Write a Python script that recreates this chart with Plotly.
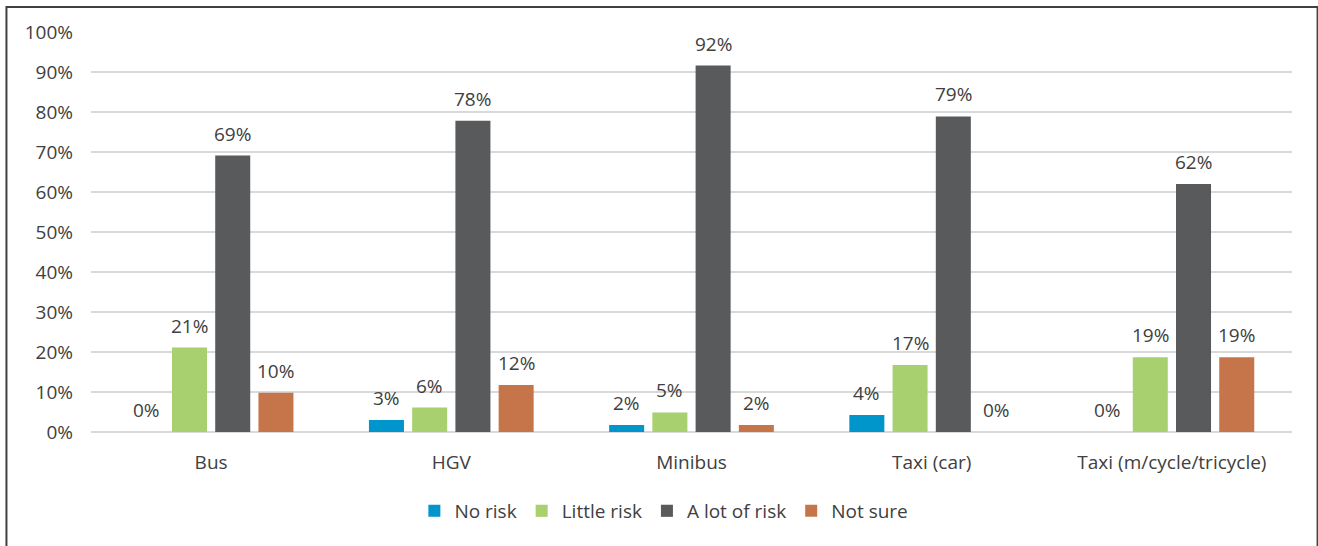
import plotly.graph_objects as go

# Perceived risk by vehicle type
vehicles = ["Bus", "HGV", "Minibus", "Taxi (car)", "Taxi (m/cycle/tricycle)"]
no_risk = [0.0, 0.030, 0.0175, 0.0425, 0.0]
little_risk = [0.211, 0.061, 0.049, 0.1675, 0.187]
a_lot_of_risk = [0.691, 0.778, 0.916, 0.789, 0.62]
not_sure = [0.098, 0.1175, 0.0175, 0.0, 0.187]

series = [
    ("No risk", no_risk, "#0096CC"),
    ("Little risk", little_risk, "#A8D06E"),
    ("A lot of risk", a_lot_of_risk, "#595A5C"),
    ("Not sure", not_sure, "#C6754A"),
]

text_color = "#404040"
font_family = "Open Sans, Lato, sans-serif"
font_size = 19

bargap = 0.28
bargroupgap = 0.19

fig = go.Figure()
for name, vals, color in series:
    fig.add_trace(go.Bar(
        x=vehicles,
        y=vals,
        name=name,
        marker=dict(color=color, line=dict(width=0)),
        cliponaxis=False,
    ))

# Value labels above each bar, placed at the bar's slot within its group
n = len(series)
slot = (1 - bargap) / n
for i, (name, vals, color) in enumerate(series):
    offset = (i - (n - 1) / 2) * slot
    for j, v in enumerate(vals):
        fig.add_annotation(
            x=j + offset, y=v, xref="x", yref="y",
            text=f"{v:.0%}",
            showarrow=False,
            yanchor="bottom",
            yshift=7,
            font=dict(size=font_size, color=text_color, family=font_family),
        )

# Outer chart border
fig.add_shape(
    type="rect", xref="paper", yref="paper",
    x0=-0.0704, x1=1.0213, y0=-0.35, y1=1.0625,
    line=dict(color="#404040", width=2), fillcolor="rgba(0,0,0,0)",
    layer="below",
)

fig.update_layout(
    width=1318,
    height=546,
    margin=dict(l=91, r=26, t=32, b=114),
    paper_bgcolor="white",
    plot_bgcolor="white",
    barmode="group",
    bargap=bargap,
    bargroupgap=bargroupgap,
    font=dict(family=font_family, size=font_size, color=text_color),
    showlegend=True,
    legend=dict(
        orientation="h",
        x=0.477, xanchor="center",
        y=-0.15, yanchor="top",
        font=dict(size=font_size, color=text_color),
        itemwidth=30,
        traceorder="normal",
    ),
)

fig.update_xaxes(
    showgrid=False,
    showline=False,
    ticks="",
    tickfont=dict(size=font_size, color=text_color),
    ticklabelstandoff=17,
)

fig.update_yaxes(
    range=[0, 1.0],
    dtick=0.1,
    tickformat=".0%",
    showgrid=True,
    gridcolor="#D9D9D9",
    gridwidth=2,
    zeroline=True,
    zerolinecolor="#D9D9D9",
    zerolinewidth=2,
    showline=False,
    ticks="",
    tickfont=dict(size=font_size, color=text_color),
    ticklabelstandoff=17,
)

fig.write_html("out.html")
